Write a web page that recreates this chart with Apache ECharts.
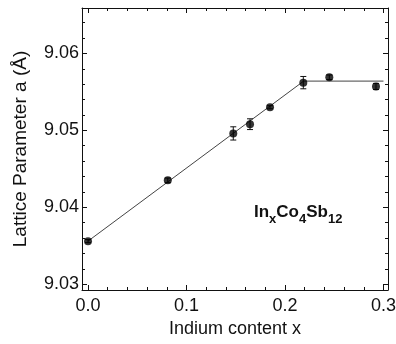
<!DOCTYPE html>
<html>
<head>
<meta charset="utf-8">
<title>Lattice parameter vs indium content</title>
<script src="https://cdn.jsdelivr.net/npm/echarts@6/dist/echarts.min.js"></script>
<style>
  html, body { margin: 0; padding: 0; background: #fff; }
  #main { width: 396px; height: 344px; }
</style>
</head>
<body>
<div id="main"></div>
<script type="text/javascript">
// measured points (x = In content, a in Angstrom, +/- error)
var xs   = [0, 0.081, 0.1475, 0.1645, 0.1848, 0.2186, 0.245, 0.2924];
var ys   = [9.0356, 9.0435, 9.0496, 9.0508, 9.0530, 9.0562, 9.0569, 9.0557];
var errs = [0.0002, 0.0003, 0.00086, 0.0007, 0.0002, 0.0008, 0.0003, 0.0004];

// guide line: linear rise then plateau
var fitX = [0, 0.219, 0.3];
var fitY = [9.0356, 9.0564, 9.0564];

// ticks
var xMajor = [0, 0.1, 0.2, 0.3];
var xMinor = [0.02, 0.04, 0.06, 0.08, 0.12, 0.14, 0.16, 0.18, 0.22, 0.24, 0.26, 0.28];
var yMajor = [9.03, 9.04, 9.05, 9.06];
var yMinor = [9.032, 9.034, 9.036, 9.038, 9.042, 9.044, 9.046, 9.048,
              9.052, 9.054, 9.056, 9.058, 9.062, 9.064];

var X_MIN = -0.0061, X_MAX = 0.3046;
var Y_MIN = 9.02925, Y_MAX = 9.0659;
var FONT = 'Liberation Sans, Arial, sans-serif';
var INK = '#111';

var points = xs.map(function (x, i) { return [x, ys[i]]; });
var bars = xs.map(function (x, i) { return [x, ys[i], errs[i]]; });
var fit = fitX.map(function (x, i) { return [x, fitY[i]]; });

function xAxisDef(pos, ticks, len, major) {
    return {
        type: 'value', position: pos, min: X_MIN, max: X_MAX,
        name: (pos === 'bottom' && major) ? 'Indium content x' : '',
        nameLocation: 'middle', nameGap: 30, nameMoveOverlap: false,
        nameTextStyle: { fontFamily: FONT, fontSize: 18, color: INK },
        axisLine: { show: major, onZero: false, lineStyle: { color: INK, width: 1 } },
        axisTick: { show: true, inside: true, length: len, customValues: ticks,
                    lineStyle: { color: INK, width: 1 } },
        axisLabel: { show: pos === 'bottom' && major, customValues: ticks, margin: 7,
                     fontFamily: FONT, fontSize: 18, color: INK,
                     formatter: function (v) { return v.toFixed(1); } },
        splitLine: { show: false }
    };
}

function yAxisDef(pos, ticks, len, major) {
    return {
        type: 'value', position: pos, min: Y_MIN, max: Y_MAX,
        name: (pos === 'left' && major) ? 'Lattice Parameter a (Å)' : '',
        nameLocation: 'middle', nameGap: 52, nameMoveOverlap: false,
        nameTextStyle: { fontFamily: FONT, fontSize: 19, color: INK },
        axisLine: { show: major, onZero: false, lineStyle: { color: INK, width: 1 } },
        axisTick: { show: true, inside: true, length: len, customValues: ticks,
                    lineStyle: { color: INK, width: 1 } },
        axisLabel: { show: pos === 'left' && major, customValues: ticks, margin: 3,
                     fontFamily: FONT, fontSize: 18, color: INK,
                     formatter: function (v) { return v.toFixed(2); } },
        splitLine: { show: false }
    };
}

var chart = echarts.init(document.getElementById('main'), null, { renderer: 'canvas' });

var option = {
    animation: false,
    backgroundColor: '#fff',
    grid: { left: 82, right: 8, top: 8, bottom: 54, containLabel: false, outerBoundsMode: 'none' },
    xAxis: [
        xAxisDef('bottom', xMajor, 5, true),
        xAxisDef('bottom', xMinor, 3, false),
        xAxisDef('top', xMajor, 5, true),
        xAxisDef('top', xMinor, 3, false)
    ],
    yAxis: [
        yAxisDef('left', yMajor, 5, true),
        yAxisDef('left', yMinor, 3, false),
        yAxisDef('right', yMajor, 5, true),
        yAxisDef('right', yMinor, 3, false)
    ],
    graphic: [{
        type: 'text',
        left: 254,
        top: 204,
        style: {
            text: '{b|In}{s|x}{b|Co}{s|4}{b|Sb}{s|12}',
            rich: {
                b: { fontFamily: FONT, fontSize: 17, fontWeight: 'bold', fill: INK,
                     lineHeight: 20, verticalAlign: 'top' },
                s: { fontFamily: FONT, fontSize: 13, fontWeight: 'bold', fill: INK,
                     lineHeight: 14, verticalAlign: 'top', padding: [9, 0, 0, 0] }
            }
        }
    }],
    series: [
        {
            type: 'line',
            data: fit,
            symbol: 'none',
            lineStyle: { color: '#444', width: 1 },
            z: 1
        },
        {
            type: 'custom',
            data: bars,
            z: 2,
            renderItem: function (params, api) {
                var x = api.value(0), y = api.value(1), e = api.value(2);
                var top = api.coord([x, y + e]);
                var bot = api.coord([x, y - e]);
                var st = { stroke: INK, lineWidth: 1 };
                return {
                    type: 'group',
                    children: [
                        { type: 'line', shape: { x1: top[0], y1: top[1], x2: bot[0], y2: bot[1] }, style: st },
                        { type: 'line', shape: { x1: top[0] - 3, y1: top[1], x2: top[0] + 3, y2: top[1] }, style: st },
                        { type: 'line', shape: { x1: bot[0] - 3, y1: bot[1], x2: bot[0] + 3, y2: bot[1] }, style: st }
                    ]
                };
            }
        },
        {
            type: 'scatter',
            data: points,
            symbol: 'circle',
            symbolSize: 8,
            itemStyle: { color: '#000' },
            z: 3
        }
    ]
};

chart.setOption(option);
</script>
</body>
</html>
